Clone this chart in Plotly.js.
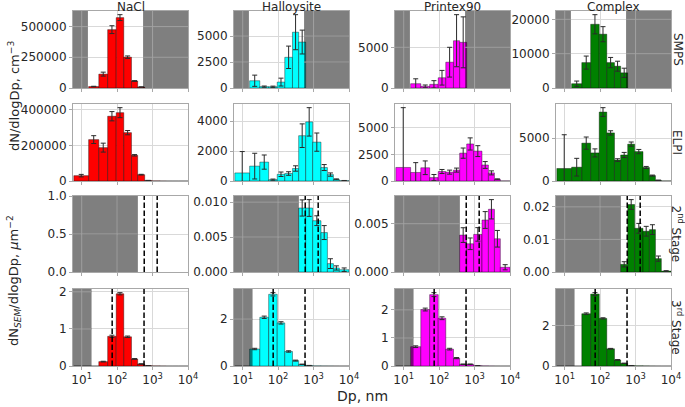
<!DOCTYPE html>
<html><head><meta charset="utf-8">
<script src="https://cdn.plot.ly/plotly-3.0.1.min.js"></script>
<style>html,body{margin:0;padding:0;background:#fff}#chart{width:685px;height:407px}</style>
</head><body><div id="chart"></div>
<script>
// ---------- categories / labels ----------
const materials = ['NaCl', 'Halloysite', 'Printex90', 'Complex'];
const rowLabels = ['SMPS', 'ELPI', '2<sup>nd</sup> Stage', '3<sup>rd</sup> Stage'];
const xTickVals = [10, 100, 1000, 10000];
const xTickText = ['10<sup>1</sup>', '10<sup>2</sup>', '10<sup>3</sup>', '10<sup>4</sup>'];

// ---------- bin edges (nm) ----------
const elpiEdges = [6, 15.7, 30.4, 54.1, 94.3, 154, 254, 380, 600, 943, 1620, 2460, 3640, 5340, 10000];
const smpsEdges = elpiEdges.slice(1, 9);
const stage2Edges = elpiEdges.slice(7);
const stage3Edges = elpiEdges;

// ---------- shaded ranges and cut lines (nm) ----------
const smpsRange = [15, 540];
const stage2Min = 385;
const stage3Min = 19;
const stage2Cuts = [582, 1350];
const stage3Cuts = [72.5, 575];

// ---------- SMPS ----------
const smpsNaCl = [12000, 113000, 475000, 573000, 251000, 57000, 8000];
const smpsNaClErr = [2000, 16000, 32000, 24000, 10000, 3000, 1000];
const smpsHalloysite = [700, 130, 120, 570, 2960, 5380, 4430];
const smpsHalloysiteErr = [540, 60, 60, 380, 1080, 1690, 1150];
const smpsPrintex = [530, 200, 450, 1260, 3170, 5810, 5610];
const smpsPrintexErr = [600, 170, 450, 900, 1830, 3200, 3130];
const smpsComplex = [1250, 7400, 18560, 15670, 7400, 6350, 4420];
const smpsComplexErr = [770, 1900, 2800, 2200, 1500, 1450, 1350];

// ---------- ELPI ----------
const elpiNaCl = [30000, 232000, 187000, 363000, 383000, 271000, 144000, 35500, 3000, 800, 300, 150, 80, 30];
const elpiNaClErr = [7000, 22000, 25000, 26000, 28000, 12000, 4000, 2000, 500, 0, 0, 0, 0, 0];
const elpiHalloysite = [540, 995, 1265, 90, 450, 500, 836, 3030, 3955, 2600, 900, 430, 110, 25];
const elpiHalloysiteErr = [1430, 860, 475, 40, 150, 120, 180, 790, 950, 610, 200, 110, 30, 10];
const elpiPrintex = [1270, 800, 1240, 320, 890, 830, 1020, 2610, 3470, 2800, 1500, 760, 160, 10];
const elpiPrintexErr = [5600, 920, 640, 290, 190, 190, 190, 480, 570, 510, 320, 190, 40, 0];
const elpiComplex = [1457, 1610, 4410, 3270, 8030, 5600, 2440, 3030, 4290, 3425, 1575, 630, 80, 10];
const elpiComplexErr = [3930, 1030, 710, 470, 510, 250, 150, 300, 250, 250, 120, 60, 20, 0];

// ---------- 2nd stage (SEM) ----------
const stage2NaCl = [];
const stage2NaClErr = [];
const stage2Halloysite = [0.00917, 0.00917, 0.00735, 0.00565, 0.0012, 0.00058, 0.00033];
const stage2HalloysiteErr = [0.00116, 0.0012, 0.0007, 0.001, 0.0007, 0.0003, 0.00025];
const stage2Printex = [0.00382, 0.00292, 0.00389, 0.00538, 0.00649, 0.00344, 0.00049];
const stage2PrintexErr = [0.00076, 0.0006, 0.0007, 0.00087, 0.001, 0.00086, 0.00027];
const stage2Complex = [0.00235, 0.0207, 0.0134, 0.0125, 0.013, 0.0041, 0.0003];
const stage2ComplexErr = [0.0008, 0.0015, 0.0015, 0.0015, 0.0015, 0.0008, 0.0001];

// ---------- 3rd stage (SEM) ----------
const stage3NaCl = [0, 0, 0.118, 0.80, 1.946, 0.787, 0.19, 0.054, 0.01, 0.003, 0.001, 0, 0, 0];
const stage3NaClErr = [0, 0, 0.01, 0.03, 0.03, 0.02, 0.01, 0.005, 0.002, 0, 0, 0, 0, 0];
const stage3Halloysite = [0, 0.725, 2.08, 3.06, 1.84, 0.62, 0.23, 0.07, 0.02, 0.006, 0.003, 0.002, 0.001, 0];
const stage3HalloysiteErr = [0, 0.03, 0.05, 0.07, 0.05, 0.03, 0.02, 0.01, 0.005, 0, 0, 0, 0, 0];
const stage3Printex = [0, 0.687, 2.01, 2.54, 1.70, 0.60, 0.28, 0.06, 0.06, 0.01, 0.005, 0.002, 0.001, 0];
const stage3PrintexErr = [0, 0.03, 0.05, 0.07, 0.05, 0.03, 0.02, 0.01, 0.01, 0.003, 0, 0, 0, 0];
const stage3Complex = [0, 0, 2.58, 3.55, 2.35, 0.85, 0.30, 0.13, 0.02, 0.01, 0.005, 0.002, 0.001, 0];
const stage3ComplexErr = [0, 0, 0.04, 0.07, 0.03, 0.02, 0.015, 0.01, 0.005, 0, 0, 0, 0, 0];

// ---------- assembly ----------
const rowEdges = [smpsEdges, elpiEdges, stage2Edges, stage3Edges];
const rowData = [
  [[smpsNaCl, smpsNaClErr], [smpsHalloysite, smpsHalloysiteErr], [smpsPrintex, smpsPrintexErr], [smpsComplex, smpsComplexErr]],
  [[elpiNaCl, elpiNaClErr], [elpiHalloysite, elpiHalloysiteErr], [elpiPrintex, elpiPrintexErr], [elpiComplex, elpiComplexErr]],
  [[stage2NaCl, stage2NaClErr], [stage2Halloysite, stage2HalloysiteErr], [stage2Printex, stage2PrintexErr], [stage2Complex, stage2ComplexErr]],
  [[stage3NaCl, stage3NaClErr], [stage3Halloysite, stage3HalloysiteErr], [stage3Printex, stage3PrintexErr], [stage3Complex, stage3ComplexErr]]
];

// ---------- styling ----------
const W = 685, H = 407;
const colors = ['#ff0000', '#00ffff', '#ff00ff', '#008000'];
const colLeft = [73, 234, 395, 556], colW = 115;
const rowTop = [11, 104, 196, 289], rowBot = [88, 181, 272, 366];
const xRange = [0.755, 4];
const yDtick = [[250000, 2500, 5000, 10000], [200000, 2000, 2500, 5000], [0.5, 0.005, 0.005, 0.01], [1, 2, 1, 2]];
const yFmt = [['d', 'd', 'd', 'd'], ['d', 'd', 'd', 'd'], ['.1f', '.3f', '.3f', '.2f'], ['d', 'd', 'd', 'd']];
const FONT = 'DejaVu Sans, Liberation Sans, sans-serif';
const TXT = '#262626';
const GRID = '#d9d9d9';
const GRID_ON_GREY = '#a2a2a2';
const lg = Math.log10;

const traces = [];
const layout = {
  width: W, height: H, margin: {l: 0, r: 0, t: 0, b: 0},
  paper_bgcolor: '#fff', plot_bgcolor: '#fff', showlegend: false,
  font: {family: FONT, size: 12, color: TXT},
  shapes: [], annotations: []
};

for (let r = 0; r < 4; r++) {
  for (let c = 0; c < 4; c++) {
    const i = r * 4 + c + 1;
    const xa = i === 1 ? 'x' : 'x' + i, ya = i === 1 ? 'y' : 'y' + i;
    const edges = rowEdges[r];
    const [vals, errs] = rowData[r][c];
    const centers = [], widths = [];
    for (let k = 0; k < vals.length; k++) {
      const a = lg(edges[k]), b = lg(edges[k + 1]);
      centers.push((a + b) / 2); widths.push(b - a);
    }
    traces.push({
      type: 'bar', x: centers, y: vals, width: widths, xaxis: xa, yaxis: ya,
      marker: {color: colors[c], line: {color: 'rgba(0,0,0,0.55)', width: 0.7}},
      error_y: {type: 'data', array: errs.map(e => e > 0 ? e : NaN), visible: true, color: '#2a2a2a', thickness: 1, width: 2.5},
      hoverinfo: 'skip'
    });
    let ymax = 1;
    if (vals.length) ymax = 1.05 * Math.max(...vals.map((v, k) => v + (errs[k] || 0)));
    layout[i === 1 ? 'xaxis' : 'xaxis' + i] = {
      domain: [colLeft[c] / W, (colLeft[c] + colW) / W], anchor: ya, range: xRange,
      tickmode: 'array', tickvals: xTickVals.map(lg), ticktext: xTickText,
      showticklabels: r === 3, tickfont: {size: 12, color: TXT},
      showgrid: true, gridcolor: GRID, gridwidth: 1, zeroline: false,
      showline: true, linecolor: '#a8a8a8', linewidth: 1, mirror: true,
      ticks: 'outside', ticklen: 3, tickcolor: '#a8a8a8', fixedrange: true
    };
    const dt = yDtick[r][c];
    layout[i === 1 ? 'yaxis' : 'yaxis' + i] = {
      domain: [1 - rowBot[r] / H, 1 - rowTop[r] / H], anchor: xa, range: [0, ymax],
      dtick: dt, tick0: 0, tickformat: yFmt[r][c], tickfont: {size: 12, color: TXT},
      showgrid: true, gridcolor: GRID, gridwidth: 1, zeroline: false,
      showline: true, linecolor: '#a8a8a8', linewidth: 1, mirror: true,
      ticks: 'outside', ticklen: 3, tickcolor: '#a8a8a8', fixedrange: true
    };
    // grey (black 50%) overlay over the unmeasured range, with the grid redrawn on top of it
    const greyRect = (x0, x1) => {
      layout.shapes.push({
        type: 'rect', xref: xa, yref: ya + ' domain', x0: x0, x1: x1, y0: 0, y1: 1,
        fillcolor: 'rgba(0,0,0,0.5)', line: {width: 0}, layer: 'above'
      });
      xTickVals.map(lg).filter(v => v > x0 + 1e-6 && v < x1 - 1e-6).forEach(v => layout.shapes.push({
        type: 'line', xref: xa, yref: ya + ' domain', x0: v, x1: v, y0: 0, y1: 1,
        line: {color: GRID_ON_GREY, width: 1}, layer: 'above'
      }));
      for (let t = dt; t < ymax * 0.999; t += dt) layout.shapes.push({
        type: 'line', xref: xa, yref: ya, x0: x0, x1: x1, y0: t, y1: t,
        line: {color: GRID_ON_GREY, width: 1}, layer: 'above'
      });
    };
    const cutLine = (v) => layout.shapes.push({
      type: 'line', xref: xa, yref: ya + ' domain', x0: lg(v), x1: lg(v), y0: 0, y1: 1,
      line: {color: '#000', width: 1.5, dash: '5.5px,2.5px'}, layer: 'above'
    });
    if (r === 0) { greyRect(xRange[0], lg(smpsRange[0])); greyRect(lg(smpsRange[1]), xRange[1]); }
    if (r === 2) { greyRect(xRange[0], lg(stage2Min)); stage2Cuts.forEach(cutLine); }
    if (r === 3) { greyRect(xRange[0], lg(stage3Min)); stage3Cuts.forEach(cutLine); }
  }
}

// column titles
materials.forEach((m, c) => layout.annotations.push({
  text: m, xref: 'paper', yref: 'paper', x: (colLeft[c] + colW / 2) / W, y: 1 - 6.5 / H,
  xanchor: 'center', yanchor: 'middle', borderpad: 0, showarrow: false, font: {size: 12, color: TXT}
}));
// row labels on the right
rowLabels.forEach((t, r) => layout.annotations.push({
  text: t, xref: 'paper', yref: 'paper', x: 677.5 / W, y: 1 - (rowTop[r] + rowBot[r]) / 2 / H,
  xanchor: 'center', yanchor: 'middle', textangle: 90, borderpad: 0, showarrow: false, font: {size: 12, color: TXT}
}));
// axis titles
layout.annotations.push({
  text: 'dN/dlogDp, cm<sup>−3</sup>', xref: 'paper', yref: 'paper', x: 14 / W, y: 1 - 96 / H,
  xanchor: 'center', yanchor: 'middle', textangle: -90, showarrow: false, font: {size: 13, color: TXT}
});
layout.annotations.push({
  text: 'dN<sub><i>SEM</i></sub>/dlogDp, <i>μ</i>m<sup>−2</sup>', xref: 'paper', yref: 'paper', x: 14 / W, y: 1 - 281 / H,
  xanchor: 'center', yanchor: 'middle', textangle: -90, showarrow: false, font: {size: 13, color: TXT}
});
layout.annotations.push({
  text: 'Dp, nm', xref: 'paper', yref: 'paper', x: 362.5 / W, y: 1 - 396 / H,
  xanchor: 'center', yanchor: 'middle', showarrow: false, font: {size: 14, color: TXT}
});

Plotly.newPlot('chart', traces, layout, {staticPlot: true, displayModeBar: false});
</script>
</body></html>
